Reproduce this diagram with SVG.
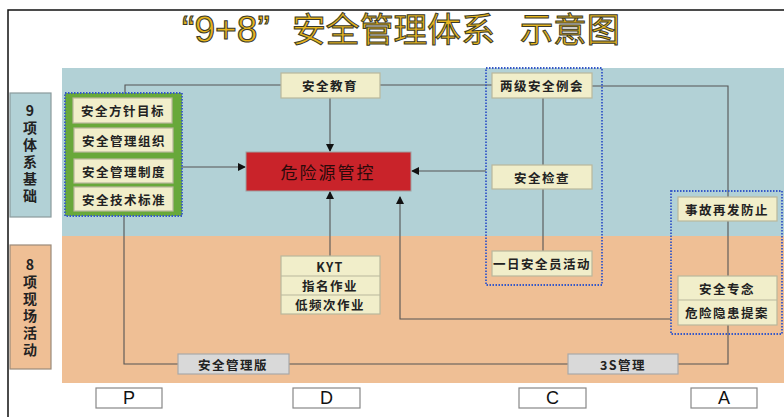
<svg xmlns="http://www.w3.org/2000/svg" width="784" height="417" viewBox="0 0 784 417">
<defs>
<style>
.cn{font-family:"Noto Sans CJK SC","Noto Sans",sans-serif;}
.ttl{font-family:"Noto Sans CJK SC","Noto Sans",sans-serif;font-size:34px;fill:#e6b41e;stroke:#3a3a2a;stroke-width:1;}
.box{fill:#f1eeca;stroke:#b9b79c;stroke-width:1.2;}
.gbox{fill:#d9d9d9;stroke:#a9a9a9;stroke-width:1.2;}
.lbl{font-family:"Noto Sans CJK SC",sans-serif;font-size:12.5px;fill:#222;text-anchor:middle;dominant-baseline:central;letter-spacing:1.5px;font-weight:bold;}
.side{font-family:"Noto Sans CJK SC",sans-serif;font-size:14px;fill:#222;font-weight:bold;writing-mode:vertical-rl;text-orientation:upright;letter-spacing:3px;}
.pdca{fill:#fff;stroke:#888;stroke-width:1.2;}
.pl{font-family:"Liberation Sans",Arial,sans-serif;font-size:18px;fill:#111;text-anchor:middle;dominant-baseline:central;}
.ln{fill:none;stroke:#555;stroke-width:1.1;}
.dot{fill:none;stroke:#3558c8;stroke-width:1.8;stroke-dasharray:1.5 1.5;}
</style>
<marker id="ah" markerWidth="8" markerHeight="8" refX="7" refY="4" orient="auto" markerUnits="userSpaceOnUse">
<path d="M0,0 L8,4 L0,8 Z" fill="#111"/>
</marker>
</defs>
<rect width="784" height="417" fill="#fff"/>
<path d="M8,417 V10 H784" fill="none" stroke="#111" stroke-width="1.5"/>
<g id="title">
<text class="ttl" y="42"><tspan x="182" font-family="Liberation Sans, sans-serif" font-size="36" textLength="88" lengthAdjust="spacingAndGlyphs">“9+8”</tspan><tspan x="292" textLength="203" lengthAdjust="spacingAndGlyphs">安全管理体系</tspan><tspan x="520" textLength="100" lengthAdjust="spacingAndGlyphs">示意图</tspan></text>
</g>
<rect x="62" y="68" width="722" height="168" fill="#b2d1d6"/>
<rect x="62" y="236" width="722" height="147" fill="#efbf95"/>
<g id="side9"><rect x="10" y="93" width="41" height="124" fill="#b2d1d6" stroke="#8a9a9c" stroke-width="1.2"/>
<text class="side" x="30" y="104">9项体系基础</text></g>
<g id="side8"><rect x="10" y="245" width="41" height="124" fill="#efbf95" stroke="#9a8a7a" stroke-width="1.2"/>
<text class="side" x="30" y="258">8项现场活动</text></g>
<g id="connectors">
<path class="ln" d="M125,98 V85 H281"/>
<path class="ln" d="M380,85 H492"/>
<path class="ln" d="M592,86 H728 V197"/>
<path class="ln" d="M728,221 V276"/>
<path class="ln" d="M728,325 V364 H678"/>
<path class="ln" d="M568,364 H289"/>
<path class="ln" d="M178,364 H124 V211"/>
<path class="ln" d="M172,167 H245" marker-end="url(#ah)"/>
<path class="ln" d="M330,98 V151" marker-end="url(#ah)"/>
<path class="ln" d="M486,171 H412" marker-end="url(#ah)"/>
<path class="ln" d="M330,256 V192" marker-end="url(#ah)"/>
<path class="ln" d="M671,319 H400 V197" marker-end="url(#ah)"/>
<path class="ln" d="M543,98 V165 M543,189 V251"/>
<path d="M124,123 V128 M124,152 V159 M124,183 V187" stroke="#3a8a2a" stroke-width="1"/>
</g>
<g id="group9"><rect x="65" y="93" width="117" height="123" class="dot" style="fill:#68a83a"/>
<rect class="box" x="73" y="98" width="99" height="25"/><text class="lbl" x="123" y="110.5">安全方针目标</text>
<rect class="box" x="74" y="128" width="99" height="24"/><text class="lbl" x="124" y="140">安全管理组织</text>
<rect class="box" x="74" y="159" width="99" height="24"/><text class="lbl" x="124" y="171">安全管理制度</text>
<rect class="box" x="74" y="187" width="99" height="24"/><text class="lbl" x="124" y="199">安全技术标准</text></g>
<g id="edu"><rect class="box" x="281" y="73" width="99" height="25"/><text class="lbl" x="330" y="85.5">安全教育</text></g>
<g id="hazard"><rect x="246" y="152" width="165" height="39" fill="#c9232a" stroke="#a0a0a0" stroke-width="1"/><text x="328" y="171.5" class="cn" font-size="17" fill="#2a0a0a" text-anchor="middle" dominant-baseline="central" letter-spacing="2">危险源管控</text></g>
<g id="kyt"><rect class="box" x="281" y="256" width="99" height="58"/>
<line x1="281" y1="276" x2="380" y2="276" stroke="#b9b79c"/><line x1="281" y1="295" x2="380" y2="295" stroke="#b9b79c"/>
<text class="lbl" x="330" y="266" font-family="Liberation Sans,sans-serif">KYT</text><text class="lbl" x="330" y="285.5">指名作业</text><text class="lbl" x="330" y="304.5">低频次作业</text></g>
<g id="groupC"><rect class="dot" x="486" y="68" width="116" height="217"/>
<rect class="box" x="492" y="73" width="100" height="25"/><text class="lbl" x="542" y="85.5">两级安全例会</text>
<rect class="box" x="492" y="165" width="100" height="24"/><text class="lbl" x="542" y="177">安全检查</text>
<rect class="box" x="492" y="251" width="100" height="25"/><text class="lbl" x="542" y="263.5" letter-spacing="0.5">一日安全员活动</text></g>
<g id="groupA"><rect class="dot" x="671" y="191" width="111" height="143"/>
<rect class="box" x="678" y="197" width="99" height="24"/><text class="lbl" x="727" y="209">事故再发防止</text>
<rect class="box" x="678" y="276" width="99" height="49"/><line x1="678" y1="300" x2="777" y2="300" stroke="#b9b79c"/>
<text class="lbl" x="727" y="288">安全专念</text><text class="lbl" x="727" y="312.5">危险隐患提案</text></g>
<g id="board"><rect class="gbox" x="178" y="354" width="111" height="20"/><text class="lbl" x="233" y="364">安全管理版</text></g>
<g id="s3"><rect class="gbox" x="568" y="354" width="110" height="20"/><text class="lbl" x="623" y="364">3S管理</text></g>
<g id="P"><rect class="pdca" x="96" y="388" width="66" height="20"/><text class="pl" x="129" y="398">P</text></g>
<g id="D"><rect class="pdca" x="293" y="388" width="67" height="20"/><text class="pl" x="326.5" y="398">D</text></g>
<g id="C"><rect class="pdca" x="519" y="388" width="67" height="20"/><text class="pl" x="552.5" y="398">C</text></g>
<g id="A"><rect class="pdca" x="691" y="388" width="66" height="20"/><text class="pl" x="724" y="398">A</text></g>
</svg>
